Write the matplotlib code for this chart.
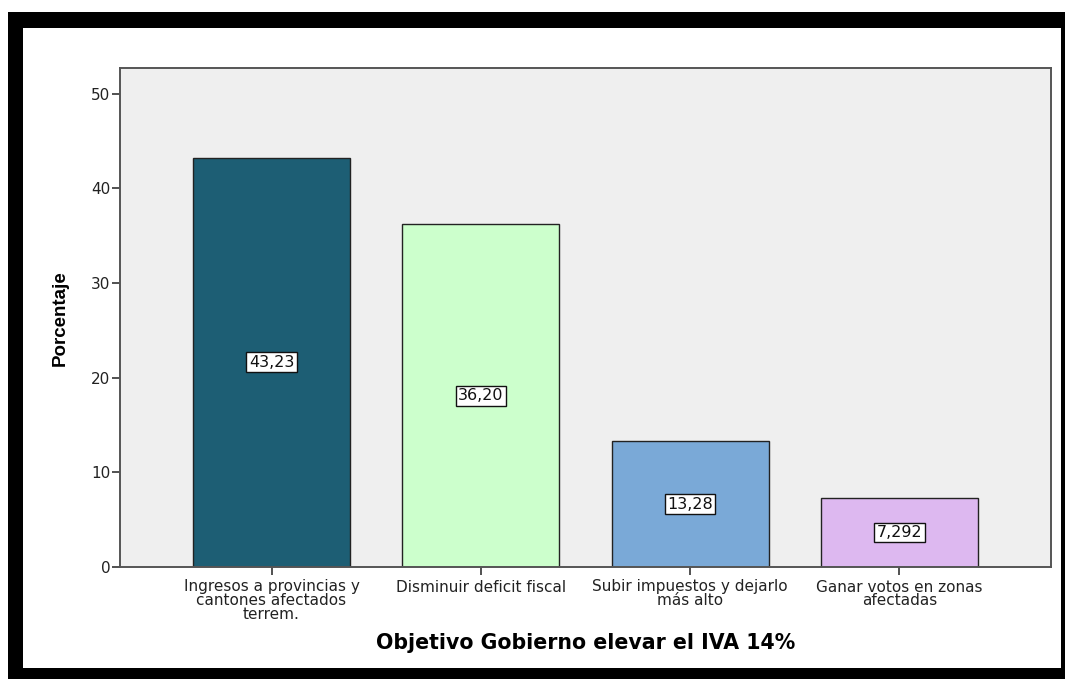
import matplotlib
matplotlib.use("Agg")
import matplotlib.pyplot as plt
from matplotlib.patches import Rectangle

categories = ["Ingresos a provincias y\ncantones afectados\nterrem.",
              "Disminuir deficit fiscal",
              "Subir impuestos y dejarlo\nmás alto",
              "Ganar votos en zonas\nafectadas"]
values = [43.23, 36.20, 13.28, 7.292]
value_labels = ["43,23", "36,20", "13,28", "7,292"]
bar_colors = ["#1d5e74", "#ccffcc", "#7aa9d7", "#ddb8f0"]
y_ticks = [0, 10, 20, 30, 40, 50]

W, H = 1065, 679
fig = plt.figure(figsize=(W / 100, H / 100), dpi=100)
fig.patch.set_facecolor("white")

# black frame around the chart (SPSS export style)
fig.patches.append(Rectangle((8 / W, 0), (W - 8) / W, (H - 12) / H,
                             transform=fig.transFigure, facecolor="black",
                             edgecolor="none", zorder=-2))
fig.patches.append(Rectangle((23 / W, (H - 668) / H), (1061 - 23) / W, (668 - 28) / H,
                             transform=fig.transFigure, facecolor="white",
                             edgecolor="none", zorder=-1))

ax = fig.add_axes([120 / W, (H - 567) / H, (1051 - 120) / W, (567 - 68) / H])
ax.set_zorder(2)
ax.set_facecolor("#efefef")

x = list(range(len(categories)))
ax.bar(x, values, width=0.75, color=bar_colors, edgecolor="#222222", linewidth=1.0, zorder=2)

for xi, v, lab in zip(x, values, value_labels):
    ax.text(xi, v / 2, lab, ha="center", va="center", fontsize=11.5,
            family="DejaVu Sans", color="#111111", zorder=3,
            bbox=dict(boxstyle="square,pad=0.15", facecolor="white",
                      edgecolor="#111111", linewidth=1.0))

ax.set_xlim(-0.724, 3.724)
ax.set_ylim(0, 52.7)
ax.set_yticks(y_ticks)
ax.set_yticklabels([str(t) for t in y_ticks], fontsize=11, family="DejaVu Sans", color="#222222")
ax.set_xticks(x)
ax.set_xticklabels(categories, fontsize=11, family="DejaVu Sans", linespacing=0.88,
                   color="#222222")
ax.tick_params(axis="both", direction="out", length=6, width=1.2, color="#333333")
ax.tick_params(axis="x", pad=3)
ax.tick_params(axis="y", pad=1)

for s in ax.spines.values():
    s.set_color("#555555")
    s.set_linewidth(1.4)

fig.text(60 / W, 1 - 318 / H, "Porcentaje", rotation=90, ha="center", va="center",
         fontsize=13.5, fontweight="bold", family="Liberation Sans")
fig.text(586 / W, 1 - 643 / H, "Objetivo Gobierno elevar el IVA 14%", ha="center",
         va="center", fontsize=14.8, fontweight="bold", family="DejaVu Sans")

fig.savefig("out.png", dpi=100)
